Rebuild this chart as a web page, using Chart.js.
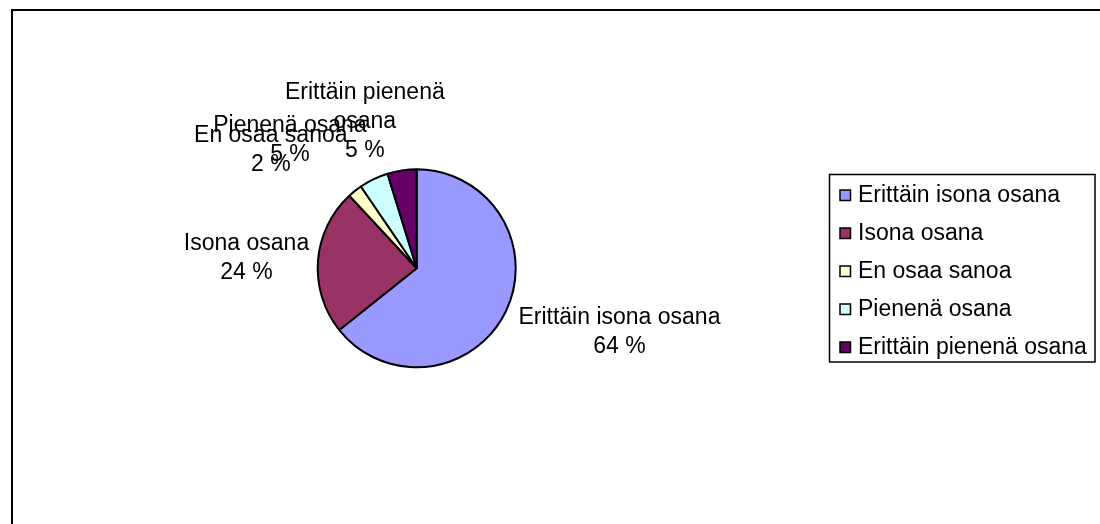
<!DOCTYPE html>
<html>
<head>
<meta charset="utf-8">
<script src="https://cdn.jsdelivr.net/npm/chart.js@4.4.1/dist/chart.umd.min.js"></script>
<style>
  html, body { margin: 0; padding: 0; background: #fff; }
  #wrap { width: 1100px; height: 524px; position: relative; }
</style>
</head>
<body>
<div id="wrap"><canvas id="pieChart" width="1100" height="524"></canvas></div>
<script>
// data (answers per category)
const categories = ['Erittäin isona osana', 'Isona osana', 'En osaa sanoa', 'Pienenä osana', 'Erittäin pienenä osana'];
const counts = [27, 10, 1, 2, 2];
// how Excel wrapped the label text
const labelText = ['Erittäin isona osana', 'Isona osana', 'En osaa sanoa', 'Pienenä osana', 'Erittäin pienenä\nosana'];
const colors = ['#9999FF', '#993366', '#FFFFCC', '#CCFFFF', '#660066'];

// small nudges so the labels land where Excel put them
const labelNudge = [[9, 2], [6, 1], [-27, -6], [-44, 1], [-23, 9]];

const FONT = '23px "Liberation Sans", Arial, sans-serif';
const LINE_H = 29;

const framePlugin = {
    id: 'frame',
    beforeDraw: (chart) => {
        const { ctx } = chart;
        ctx.save();
        ctx.fillStyle = '#fff';
        ctx.fillRect(0, 0, chart.width, chart.height);
        ctx.strokeStyle = '#000';
        ctx.lineWidth = 2;
        ctx.strokeRect(12, 10, 1200, 700);
        ctx.restore();
    }
};

const labelPlugin = {
    id: 'pieLabels',
    afterDatasetsDraw: (chart) => {
        const { ctx } = chart;
        const meta = chart.getDatasetMeta(0);
        const total = counts.reduce((a, b) => a + b, 0);
        ctx.save();
        ctx.font = FONT;
        ctx.fillStyle = '#000';
        ctx.textAlign = 'center';
        ctx.textBaseline = 'middle';
        meta.data.forEach((arc, i) => {
            const p = arc.getProps(['x', 'y', 'startAngle', 'endAngle', 'outerRadius'], true);
            const mid = (p.startAngle + p.endAngle) / 2;
            const cx = Math.cos(mid), cy = Math.sin(mid);
            const lines = labelText[i].split('\n');
            lines.push(Math.round(counts[i] / total * 100) + ' %');
            const w = Math.max(...lines.map(l => ctx.measureText(l).width));
            const h = lines.length * LINE_H;
            const r = p.outerRadius + 15;
            const bx = p.x + cx * r + cx * w / 2 + labelNudge[i][0];
            const by = p.y + cy * r + cy * h / 2 + labelNudge[i][1];
            lines.forEach((l, k) => {
                ctx.fillText(l, bx, by - h / 2 + LINE_H / 2 + k * LINE_H);
            });
        });
        ctx.restore();
    }
};

const legendPlugin = {
    id: 'boxLegend',
    afterDraw: (chart) => {
        const { ctx } = chart;
        ctx.save();
        ctx.strokeStyle = '#000';
        ctx.lineWidth = 1.5;
        ctx.strokeRect(829.5, 174.5, 265.5, 187.5);
        ctx.font = FONT;
        ctx.textBaseline = 'middle';
        ctx.textAlign = 'left';
        chart.data.labels.forEach((lab, i) => {
            const y = 195 + i * 38;
            ctx.fillStyle = chart.data.datasets[0].backgroundColor[i];
            ctx.fillRect(840, y - 5, 10.5, 10.5);
            ctx.lineWidth = 1.5;
            ctx.strokeRect(840, y - 5, 10.5, 10.5);
            ctx.fillStyle = '#000';
            ctx.fillText(lab, 858, y + 1);
        });
        ctx.restore();
    }
};

const ctx = document.getElementById('pieChart');

new Chart(ctx, {
    type: 'pie',
    data: {
        labels: categories,
        datasets: [{
            data: counts,
            backgroundColor: colors,
            borderColor: '#000',
            borderWidth: 2,
            hoverOffset: 0
        }]
    },
    options: {
        responsive: false,
        animation: false,
        events: [],
        radius: 99,
        layout: {
            padding: { left: 306.7, right: 573.3, top: 158.3, bottom: 145.7 }
        },
        plugins: {
            legend: { display: false },
            tooltip: { enabled: false }
        }
    },
    plugins: [framePlugin, labelPlugin, legendPlugin]
});
</script>
</body>
</html>
